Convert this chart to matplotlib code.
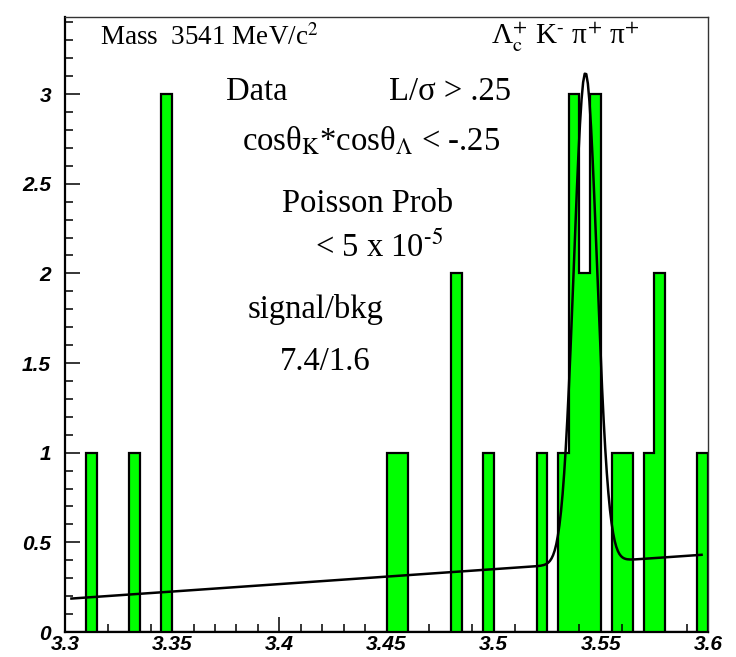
import numpy as np
import matplotlib
matplotlib.use("Agg")
import matplotlib.pyplot as plt
from matplotlib.ticker import MultipleLocator, FuncFormatter

# Lambda_c+ K- pi+ pi+ invariant mass, 5 MeV bins from 3.30 to 3.60 GeV
mass_lo, mass_hi, bin_w = 3.30, 3.60, 0.005
# lower edge of every occupied bin and its entries
bin_lo = [3.310, 3.330, 3.345, 3.450, 3.455, 3.480, 3.495, 3.520, 3.530,
          3.535, 3.540, 3.545, 3.555, 3.560, 3.570, 3.575, 3.595]
entries = [1, 1, 3, 1, 1, 2, 1, 1, 1, 3, 2, 3, 1, 1, 1, 2, 1]

# gaussian + linear background fit
fit_mean = 3.5428
fit_sigma = 0.0054
n_signal = 7.4
bkg_at_lo = 0.184
bkg_slope = 0.83
fit_range = (3.303, 3.597)

nbins = int(round((mass_hi - mass_lo) / bin_w))
edges = np.linspace(mass_lo, mass_hi, nbins + 1)
counts = np.zeros(nbins)
for lo, n in zip(bin_lo, entries):
    counts[int(round((lo - mass_lo) / bin_w))] = n


def fit_func(x):
    amp = n_signal * bin_w / (fit_sigma * np.sqrt(2 * np.pi))
    return (bkg_at_lo + bkg_slope * (x - mass_lo)
            + amp * np.exp(-0.5 * ((x - fit_mean) / fit_sigma) ** 2))


xf = np.linspace(fit_range[0], fit_range[1], 400)
yf = fit_func(xf)

plt.rcParams['mathtext.fontset'] = 'stix'

W, H = 736, 657
fig = plt.figure(figsize=(W / 100, H / 100), dpi=100)
ax = fig.add_axes([65 / W, 1 - 632 / H, (708 - 65) / W, (632 - 17) / H])

ax.stairs(counts, edges, fill=True, color='#00ff00', lw=0)
ax.stairs(counts, edges, color='black', lw=1.6, baseline=0)
ax.plot(xf, yf, color='black', lw=1.8)

ax.set_xlim(mass_lo, mass_hi)
ax.set_ylim(0, 3.43)

ax.xaxis.set_major_locator(MultipleLocator(0.05))
ax.xaxis.set_minor_locator(MultipleLocator(0.01))
ax.yaxis.set_major_locator(MultipleLocator(0.5))
ax.yaxis.set_minor_locator(MultipleLocator(0.1))
ax.tick_params(which='both', direction='in', top=False, right=False, width=1.1)
ax.tick_params(which='major', length=11)
ax.tick_params(which='minor', length=5.5)
ax.tick_params(axis='y', pad=10)
ax.tick_params(axis='x', pad=2)
ax.xaxis.set_major_formatter(FuncFormatter(lambda v, p: f"{v:g}"))
ax.yaxis.set_major_formatter(FuncFormatter(lambda v, p: f"{v:g}"))
for lab in ax.get_xticklabels() + ax.get_yticklabels():
    lab.set_fontfamily('Liberation Sans')
    lab.set_fontweight('bold')
    lab.set_fontstyle('italic')
    lab.set_fontsize(15)

for s in ('left', 'bottom'):
    ax.spines[s].set_linewidth(1.6)
for s in ('top', 'right'):
    ax.spines[s].set_linewidth(1.0)
    ax.spines[s].set_color('#333333')

serif = dict(family='Liberation Serif', fontsize=23.5, color='black',
             va='baseline', ha='left')


def put(px, py, s, **kw):
    opts = dict(serif)
    opts.update(kw)
    fig.text(px / W, 1 - py / H, s, **opts)


put(100, 45, "Mass  3541 MeV/c$^2$", fontsize=19.5)
put(491, 44, r"Λ$_{\mathrm{c}}^{+}$ K$^{\text{-}}$ π$^{+}$ π$^{+}$", fontsize=21)
put(226, 100, "Data")
put(389, 100, "L/σ > .25")
put(242, 151, r"cosθ$_{\mathrm{K}}$*cosθ$_{\Lambda}$ < -.25")
put(282, 212, "Poisson Prob")
put(315, 257, r"< 5 x 10$^{\text{-5}}$")
put(248, 318, "signal/bkg")
put(280, 370, "7.4/1.6")

fig.savefig("out.png", dpi=100)
